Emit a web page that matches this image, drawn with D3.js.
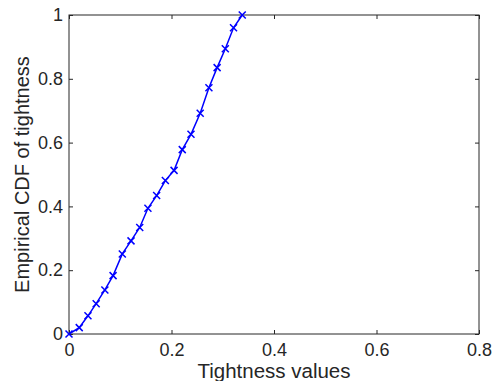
<!DOCTYPE html>
<html>
<head>
<meta charset="utf-8">
<script src="https://cdn.jsdelivr.net/npm/d3@7"></script>
<style>
  body { margin: 0; background: #fff; }
  text { font-family: "Liberation Sans", Arial, sans-serif; fill: #262626; }
</style>
</head>
<body>
<svg id="chart" width="494" height="381"></svg>
<script>
// data
const tightness = [0, 0.020, 0.037, 0.053, 0.070, 0.086, 0.104, 0.121, 0.138, 0.154, 0.171,
  0.188, 0.205, 0.221, 0.238, 0.256, 0.273, 0.289, 0.305, 0.321, 0.338];
const cdf = [0, 0.020, 0.057, 0.095, 0.138, 0.183, 0.251, 0.292, 0.334, 0.394, 0.434,
  0.481, 0.513, 0.578, 0.626, 0.692, 0.772, 0.835, 0.894, 0.960, 1];
const xTicks = [0, 0.2, 0.4, 0.6, 0.8];
const yTicks = [0, 0.2, 0.4, 0.6, 0.8, 1];

const points = tightness.map((t, i) => ({ x: t, y: cdf[i] }));

const margin = { top: 15, right: 15, bottom: 47, left: 69 };
const width = 494;
const height = 381;

const svg = d3.select('#chart');

const x = d3.scaleLinear()
  .domain([0, 0.8])
  .range([margin.left, width - margin.right]);

const y = d3.scaleLinear()
  .domain([0, 1])
  .range([height - margin.bottom, margin.top]);

const axisColor = '#262626';
const fmt = d => String(d);

// box
svg.append('rect')
  .attr('x', x(0))
  .attr('y', y(1))
  .attr('width', x(0.8) - x(0))
  .attr('height', y(0) - y(1))
  .attr('fill', 'none')
  .attr('stroke', axisColor)
  .attr('stroke-width', 1);

const xAxis = g => g
  .attr('transform', `translate(0,${y(0)})`)
  .call(d3.axisBottom(x).tickValues(xTicks).tickFormat(fmt).tickSizeInner(-4).tickSizeOuter(0).tickPadding(9));

const xAxisTop = g => g
  .attr('transform', `translate(0,${y(1)})`)
  .call(d3.axisTop(x).tickValues(xTicks).tickFormat('').tickSizeInner(-4).tickSizeOuter(0));

const yAxis = g => g
  .attr('transform', `translate(${x(0)},0)`)
  .call(d3.axisLeft(y).tickValues(yTicks).tickFormat(fmt).tickSizeInner(-4).tickSizeOuter(0).tickPadding(6));

const yAxisRight = g => g
  .attr('transform', `translate(${x(0.8)},0)`)
  .call(d3.axisRight(y).tickValues(yTicks).tickFormat('').tickSizeInner(-4).tickSizeOuter(0));

[xAxis, xAxisTop, yAxis, yAxisRight].forEach(a => {
  const g = svg.append('g').call(a);
  g.select('.domain').remove();
  g.selectAll('line').attr('stroke', axisColor);
  g.selectAll('text')
    .attr('font-size', 18)
    .attr('font-family', '"Liberation Sans", Arial, sans-serif')
    .attr('fill', axisColor);
});

// labels
svg.append('text')
  .attr('x', (x(0) + x(0.8)) / 2)
  .attr('y', 378)
  .attr('text-anchor', 'middle')
  .attr('font-size', 20.5)
  .text('Tightness values');

svg.append('text')
  .attr('transform', `translate(29,${(y(0) + y(1)) / 2}) rotate(-90)`)
  .attr('text-anchor', 'middle')
  .attr('font-size', 20)
  .text('Empirical CDF of tightness');

// line
const blue = '#0000ff';
svg.append('path')
  .datum(points)
  .attr('fill', 'none')
  .attr('stroke', blue)
  .attr('stroke-width', 1.5)
  .attr('d', d3.line().x(d => x(d.x)).y(d => y(d.y)));

// x markers
const s = 3.5;
svg.append('g')
  .selectAll('path')
  .data(points)
  .enter()
  .append('path')
  .attr('transform', d => `translate(${x(d.x)},${y(d.y)})`)
  .attr('d', `M${-s},${-s}L${s},${s}M${-s},${s}L${s},${-s}`)
  .attr('stroke', blue)
  .attr('stroke-width', 1.5)
  .attr('fill', 'none');
</script>
</body>
</html>
